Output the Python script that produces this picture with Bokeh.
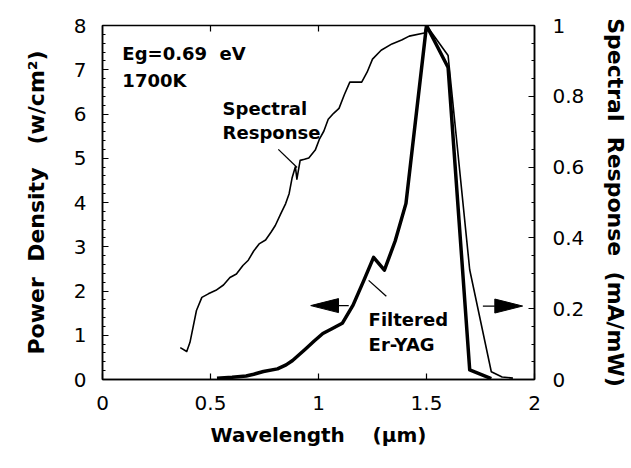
from bokeh.plotting import figure
from bokeh.models import Range1d, LinearAxis, SingleIntervalTicker, NumeralTickFormatter, Label
from bokeh.embed import file_html
from bokeh.resources import INLINE

# Spectral response of the Eg=0.69 eV cell (mA/mW, right axis)
sr_wavelength = [0.36, 0.39, 0.405, 0.435, 0.46, 0.49, 0.525, 0.56, 0.59, 0.62, 0.65, 0.675,
                 0.70, 0.725, 0.755, 0.78, 0.80, 0.825, 0.848, 0.864, 0.878, 0.893, 0.900,
                 0.915, 0.935, 0.955, 0.985, 1.005, 1.025, 1.045, 1.07, 1.095, 1.12, 1.145,
                 1.20, 1.225, 1.25, 1.29, 1.34, 1.385, 1.42, 1.49, 1.50, 1.60, 1.70, 1.80,
                 1.85, 1.90]
sr_response = [0.090, 0.079, 0.105, 0.195, 0.232, 0.242, 0.252, 0.267, 0.288, 0.298, 0.322, 0.337,
               0.363, 0.383, 0.394, 0.416, 0.435, 0.468, 0.497, 0.525, 0.570, 0.601, 0.566,
               0.619, 0.622, 0.626, 0.648, 0.680, 0.702, 0.735, 0.752, 0.766, 0.805, 0.840,
               0.840, 0.868, 0.905, 0.930, 0.948, 0.959, 0.970, 0.979, 1.000, 0.915, 0.310, 0.022,
               0.007, 0.004]

# Filtered Er-YAG emitter power density (W/cm^2, left axis)
pd_wavelength = [0.53, 0.60, 0.665, 0.70, 0.745, 0.81, 0.85, 0.88, 0.94, 0.98, 1.02, 1.06,
                 1.11, 1.16, 1.21, 1.255, 1.305, 1.355, 1.405, 1.50, 1.60, 1.70, 1.80]
pd_power = [0.03, 0.05, 0.08, 0.12, 0.18, 0.24, 0.33, 0.43, 0.69, 0.87, 1.04, 1.14,
            1.27, 1.68, 2.24, 2.76, 2.47, 3.13, 3.98, 8.00, 7.05, 0.22, 0.02]

# tick marks along the top edge of the frame
top_ticks = [0.5, 1.0, 1.5]

FONT = "DejaVu Sans"
NB = "\u00a0"

p = figure(width=631, height=468, output_backend="svg", toolbar_location=None,
           x_range=Range1d(0, 2), y_range=Range1d(0, 8),
           min_border_left=102, min_border_right=94, min_border_top=25, min_border_bottom=89)
p.extra_y_ranges = {"sr": Range1d(0, 1)}
p.xgrid.visible = False
p.ygrid.visible = False
p.outline_line_color = "black"
p.outline_line_width = 1.5
p.background_fill_color = "white"
p.border_fill_color = "white"


def style(ax):
    ax.axis_line_color = "black"
    ax.axis_line_width = 1.5
    ax.major_tick_line_color = "black"
    ax.minor_tick_line_color = "black"
    ax.major_tick_line_width = 1.2
    ax.minor_tick_line_width = 1.0
    ax.major_tick_in = 6
    ax.major_tick_out = 0
    ax.minor_tick_in = 3
    ax.minor_tick_out = 0
    ax.major_label_text_font = FONT
    ax.major_label_text_font_size = "20px"
    ax.major_label_text_color = "black"
    ax.axis_label_text_font = FONT
    ax.axis_label_text_font_style = "bold"
    ax.axis_label_text_color = "black"


xb = p.xaxis[0]
style(xb)
xb.ticker = SingleIntervalTicker(interval=0.5, num_minor_ticks=0)
xb.formatter = NumeralTickFormatter(format="0.[0]")
xb.major_label_standoff = 16
xb.axis_label = "Wavelength" + NB * 4 + "(\u03bcm)"
xb.axis_label_text_font_size = "20px"
xb.axis_label_standoff = 10

yl = p.yaxis[0]
style(yl)
yl.ticker = SingleIntervalTicker(interval=1, num_minor_ticks=5)
yl.major_label_standoff = 16
yl.axis_label = "Power" + NB * 2 + "Density" + NB * 3 + "(w/cm\u00b2)"
yl.axis_label_text_font_size = "22px"
yl.axis_label_standoff = 22

yr = LinearAxis(y_range_name="sr")
style(yr)
yr.ticker = SingleIntervalTicker(interval=0.2, num_minor_ticks=4)
yr.formatter = NumeralTickFormatter(format="0.[0]")
yr.major_label_standoff = 18
yr.axis_label = "Spectral" + NB * 2 + "Response" + NB * 2 + "(mA/mW)"
yr.axis_label_text_font_size = "22px"
yr.axis_label_standoff = 16
p.add_layout(yr, "right")

# inward ticks on the top frame edge (6 px long)
p.segment(x0=top_ticks, y0=[8] * len(top_ticks), x1=top_ticks,
          y1=[8 - 6 / 44.25] * len(top_ticks), line_color="black", line_width=1.2)

# curves
p.line(pd_wavelength, pd_power, line_width=3.5, line_color="black", line_join="round")
p.line(sr_wavelength, sr_response, y_range_name="sr", line_width=1.6, line_color="black",
       line_join="round")


# text annotations
def note(x, y, text):
    p.add_layout(Label(x=x, y=y, text=text, text_font=FONT, text_font_style="bold",
                       text_font_size="18px", text_color="black",
                       text_align="left", text_baseline="middle"))


note(0.092, 7.37, "Eg=0.69" + NB * 2 + "eV")
note(0.092, 6.76, "1700K")
note(0.556, 6.12, "Spectral")
note(0.556, 5.58, "Response")
note(1.232, 1.36, "Filtered")
note(1.232, 0.79, "Er-YAG")

# leader lines from labels to curves
p.segment(x0=[0.814, 1.232], y0=[5.20, 2.24], x1=[0.901, 1.314], y1=[4.79, 1.88],
          line_color="black", line_width=1.3)

# arrows pointing to each curve's axis
px_x = 217.5   # pixels per micron
px_y = 44.25   # pixels per W/cm^2
arrows = [(1.14, 0.964, 1.67), (1.761, 1.945, 1.66)]  # tail x, tip x, y
head_len = 28 / px_x
head_half = 7 / px_y
for tail, tip, y in arrows:
    d = 1 if tip > tail else -1
    base = tip - d * head_len
    p.segment(x0=[tail], y0=[y], x1=[base], y1=[y], line_color="black", line_width=1.3)
    p.patch([tip, base, base], [y, y + head_half, y - head_half],
            fill_color="black", line_color="black", line_width=1)

open("out.html", "w").write(file_html(p, INLINE))
